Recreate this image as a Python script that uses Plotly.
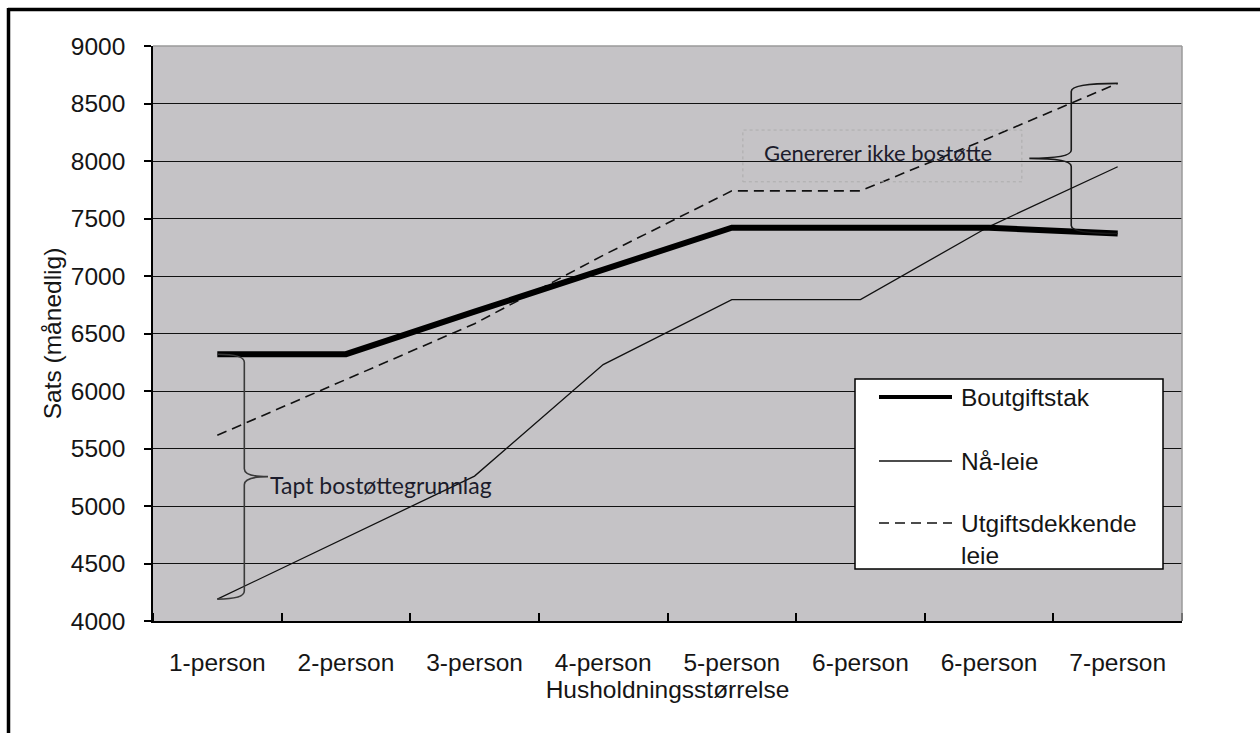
import plotly.graph_objects as go

# Household sizes (the sixth label appears twice in the source table)
categories = ["1-person", "2-person", "3-person", "4-person",
              "5-person", "6-person", "6-person", "7-person"]

# Monthly rates per household size
boutgiftstak = [6320, 6320, 6690, 7060, 7420, 7420, 7420, 7370]
naa_leie = [4190, 4725, 5260, 6230, 6795, 6795, 7430, 7950]
utgiftsdekkende = [5615, 6100, 6585, 7180, 7740, 7740, 8200, 8675]

y_ticks = [4000, 4500, 5000, 5500, 6000, 6500, 7000, 7500, 8000, 8500, 9000]

W, H = 1260, 733
ML, MR, MT, MB = 153, 78, 46, 112
PW, PH = W - ML - MR, H - MT - MB

AXIS_FONT = dict(family="Liberation Sans, Arial, sans-serif", size=24.5, color="#151515")
NOTE_FONT = dict(family="Lato, Carlito, Calibri, sans-serif", size=23, color="#1c1c2c")
INK = "#111111"


def px(x):
    """Horizontal page pixel -> paper coordinate."""
    return (x - ML) / PW


def py(y):
    """Vertical page pixel -> paper coordinate."""
    return (H - MB - y) / PH


def brace(x_end, x_spine, x_tip, y_lo, y_hi, ry):
    """Curly brace between y_lo and y_hi with its point at x_tip."""
    ym = (y_lo + y_hi) / 2
    return (f"M{x_end},{y_hi} Q{x_spine},{y_hi} {x_spine},{y_hi - ry} "
            f"L{x_spine},{ym + ry} Q{x_spine},{ym} {x_tip},{ym} "
            f"Q{x_spine},{ym} {x_spine},{ym - ry} "
            f"L{x_spine},{y_lo + ry} Q{x_spine},{y_lo} {x_end},{y_lo}")


xs = list(range(len(categories)))

fig = go.Figure()
fig.add_trace(go.Scatter(x=xs, y=utgiftsdekkende, mode="lines", name="Utgiftsdekkende leie",
                         line=dict(color=INK, width=1.6, dash="10px,6px"), showlegend=False))
fig.add_trace(go.Scatter(x=xs, y=naa_leie, mode="lines", name="Nå-leie",
                         line=dict(color=INK, width=1.3), showlegend=False))
fig.add_trace(go.Scatter(x=xs, y=boutgiftstak, mode="lines", name="Boutgiftstak",
                         line=dict(color="#000000", width=6), showlegend=False))

shapes = []
annotations = []

# Plot frame: grey top and right edges
shapes.append(dict(type="line", xref="paper", yref="paper", x0=0, x1=1, y0=1, y1=1,
                   line=dict(color="#9a9a9a", width=1.5), layer="above"))
shapes.append(dict(type="line", xref="paper", yref="paper", x0=1, x1=1, y0=0, y1=1,
                   line=dict(color="#9a9a9a", width=1.5), layer="above"))

# Page border (top and left)
shapes.append(dict(type="line", xref="paper", yref="paper", x0=px(8), x1=px(W + 5),
                   y0=py(9.5), y1=py(9.5), line=dict(color="#000000", width=3.5)))
shapes.append(dict(type="line", xref="paper", yref="paper", x0=px(8.5), x1=px(8.5),
                   y0=py(8), y1=py(H + 5), line=dict(color="#000000", width=3.5)))

# Brace: lost housing-support basis for a one-person household
shapes.append(dict(type="path", xref="x", yref="y",
                   path=brace(xs[0], xs[0] + 0.21, xs[0] + 0.394,
                              naa_leie[0], boutgiftstak[0], 70),
                   line=dict(color="#3a3a3a", width=1.6), layer="above"))
annotations.append(dict(x=xs[0] + 0.394, y=(naa_leie[0] + boutgiftstak[0]) / 2,
                        xref="x", yref="y", text="Tapt bostøttegrunnlag", showarrow=False,
                        xanchor="left", yanchor="middle", yshift=-8, font=NOTE_FONT))

# Brace: the part above the cap for the largest household
shapes.append(dict(type="path", xref="x", yref="y",
                   path=brace(xs[-1], xs[-1] - 0.361, xs[-1] - 0.687,
                              boutgiftstak[-1], utgiftsdekkende[-1], 70),
                   line=dict(color="#1a1a1a", width=1.6), layer="above"))
shapes.append(dict(type="rect", xref="x", yref="y", x0=4.086, x1=6.255, y0=7819, y1=8269,
                   line=dict(color="#adadad", width=1, dash="dot"), layer="above"))
annotations.append(dict(x=4.236, y=8044, xref="x", yref="y", text="Genererer ikke bostøtte",
                        showarrow=False, xanchor="left", yanchor="middle", yshift=3,
                        font=dict(NOTE_FONT, size=22)))

# Legend box
shapes.append(dict(type="rect", xref="paper", yref="paper", x0=px(855), x1=px(1163),
                   y0=py(569), y1=py(379), fillcolor="#ffffff",
                   line=dict(color="#000000", width=1.5), layer="above"))
legend_rows = [
    ("Boutgiftstak", 397, dict(color="#000000", width=4)),
    ("Nå-leie", 461, dict(color=INK, width=1.3)),
    ("Utgiftsdekkende<br>leie", 523, dict(color=INK, width=1.6, dash="10px,6px")),
]
for label, yrow, style in legend_rows:
    shapes.append(dict(type="line", xref="paper", yref="paper", x0=px(879), x1=px(952),
                       y0=py(yrow), y1=py(yrow), line=style, layer="above"))
    n_lines = label.count("<br>") + 1
    annotations.append(dict(x=px(959), y=py(yrow), xref="paper", yref="paper", text=label,
                            showarrow=False, xanchor="left",
                            yanchor="middle" if n_lines == 1 else "top",
                            yshift=0 if n_lines == 1 else 15,
                            align="left", font=AXIS_FONT))

fig.update_layout(
    width=W, height=H,
    margin=dict(l=ML, r=MR, t=MT, b=MB, pad=0),
    paper_bgcolor="#ffffff",
    plot_bgcolor="#c5c3c6",
    showlegend=False,
    shapes=shapes,
    annotations=annotations,
    xaxis=dict(
        range=[-0.5, len(categories) - 0.5],
        tickmode="array", tickvals=xs, ticktext=categories,
        ticks="", showgrid=False, zeroline=False,
        showline=True, linecolor="#000000", linewidth=1.5,
        tickfont=AXIS_FONT, ticklabelstandoff=19,
        minor=dict(tickmode="linear", tick0=-0.5, dtick=1, ticks="inside",
                   ticklen=8, tickwidth=1.5, tickcolor="#000000", showgrid=False),
        title=dict(text="Husholdningsstørrelse", font=AXIS_FONT, standoff=5),
    ),
    yaxis=dict(
        range=[y_ticks[0], y_ticks[-1]],
        tickmode="array", tickvals=y_ticks,
        ticks="outside", ticklen=7, tickwidth=1.5, tickcolor="#000000",
        showgrid=True, gridcolor=INK, gridwidth=1.4, zeroline=False,
        showline=True, linecolor="#000000", linewidth=1.5,
        tickfont=AXIS_FONT, ticklabelstandoff=14,
        title=dict(text="Sats (månedlig)", font=AXIS_FONT, standoff=2),
    ),
)

fig.write_html("out.html")
